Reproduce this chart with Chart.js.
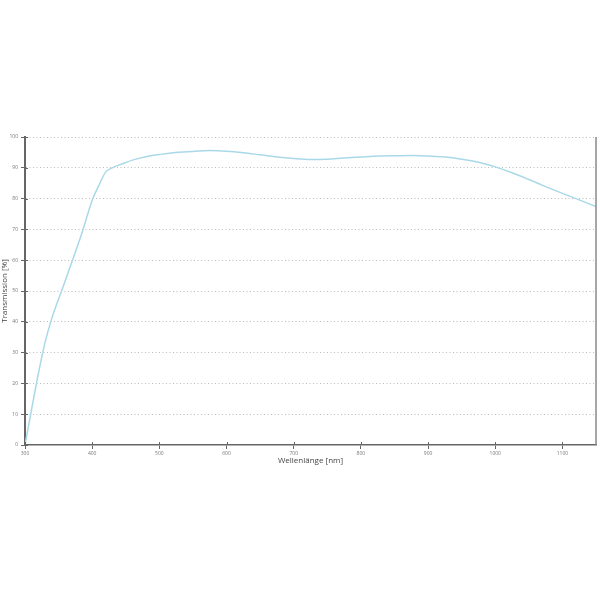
<!DOCTYPE html>
<html>
<head>
<meta charset="utf-8">
<script src="https://cdn.jsdelivr.net/npm/chart.js@4/dist/chart.umd.min.js"></script>
<style>
  html, body { margin: 0; padding: 0; background: #fff; }
  #wrap { width: 600px; height: 600px; }
</style>
</head>
<body>
<div id="wrap"><canvas id="chart"></canvas></div>
<script>
// Wellenlänge in nm
var wellenlaenge = [300, 310, 320, 330, 340, 355, 370, 385, 400, 410, 420, 430, 445, 460, 480,
  500, 525, 550, 575, 600, 625, 650, 675, 700, 725, 750, 775, 800, 825, 850, 875,
  900, 925, 950, 975, 1000, 1025, 1050, 1075, 1100, 1125, 1150];
// Transmission in %
var transmission = [0, 11.8, 23.3, 33.4, 41.2, 50.3, 59.6, 69.0, 79.5, 84.3, 88.6, 90.0, 91.3, 92.5, 93.6,
  94.3, 95.0, 95.3, 95.6, 95.4, 94.9, 94.2, 93.5, 93.0, 92.7, 92.8, 93.2, 93.5, 93.8, 93.9, 94.0,
  93.8, 93.5, 92.8, 91.8, 90.3, 88.4, 86.2, 83.9, 81.7, 79.6, 77.4];
var xTicks = [300, 400, 500, 600, 700, 800, 900, 1000, 1100];
var yTicks = [0, 10, 20, 30, 40, 50, 60, 70, 80, 90, 100];

var punkte = wellenlaenge.map(function (x, i) { return { x: x, y: transmission[i] }; });

// kleine Striche innen an den Achsen + rechter Rahmen
var achsenPlugin = {
  id: 'achsen',
  afterDraw: function (chart) {
    var ctx = chart.ctx, a = chart.chartArea;
    var sx = chart.scales.x, sy = chart.scales.y;
    ctx.save();
    ctx.strokeStyle = '#666';
    ctx.lineWidth = 1;
    ctx.setLineDash([]);
    ctx.beginPath();
    xTicks.forEach(function (v) {
      var p = Math.round(sx.getPixelForValue(v)) + 0.5;
      ctx.moveTo(p, a.bottom);
      ctx.lineTo(p, a.bottom - 3);
    });
    yTicks.forEach(function (v) {
      var p = Math.round(sy.getPixelForValue(v)) + 0.5;
      ctx.moveTo(a.left, p);
      ctx.lineTo(a.left + 3, p);
    });
    ctx.stroke();
    ctx.strokeStyle = '#888';
    ctx.lineWidth = 1.5;
    ctx.beginPath();
    ctx.moveTo(a.right, a.top);
    ctx.lineTo(a.right, a.bottom);
    ctx.stroke();
    ctx.restore();
  }
};

new Chart(document.getElementById('chart'), {
  type: 'line',
  data: {
    datasets: [{
      label: 'Transmission',
      data: punkte,
      borderColor: '#a9d9e8',
      borderWidth: 1.5,
      pointRadius: 0,
      cubicInterpolationMode: 'monotone',
      fill: false
    }]
  },
  options: {
    responsive: true,
    maintainAspectRatio: false,
    animation: false,
    layout: { padding: { top: 137, right: 4, left: 0, bottom: 134 } },
    plugins: { legend: { display: false }, tooltip: { enabled: false } },
    scales: {
      x: {
        type: 'linear',
        min: 300,
        max: 1150,
        afterBuildTicks: function (s) { s.ticks = xTicks.map(function (v) { return { value: v }; }); },
        afterFit: function (s) { s.height = 21; },
        border: { color: '#666', width: 1.5 },
        grid: { drawOnChartArea: false, tickLength: 4, tickColor: '#666', tickWidth: 1 },
        ticks: {
          color: '#777', font: { family: 'Open Sans', size: 5 }, padding: 2, maxRotation: 0,
          callback: function (v) { return String(v); }
        },
        title: {
          display: true,
          text: 'Wellenlänge [nm]',
          color: '#444',
          font: { family: 'Open Sans', size: 8 },
          padding: { top: 0, bottom: 0 }
        }
      },
      y: {
        min: 0,
        max: 100,
        afterBuildTicks: function (s) { s.ticks = yTicks.map(function (v) { return { value: v }; }); },
        afterFit: function (s) { s.width = 25; },
        border: { color: '#666', width: 2, dash: [1, 2.5] },
        grid: {
          color: function (c) { return c.tick && c.tick.value === 0 ? 'rgba(0,0,0,0)' : '#bbb'; },
          lineWidth: 1,
          tickLength: 4,
          tickColor: '#666',
          tickBorderDash: [],
          tickWidth: 1
        },
        ticks: {
          color: '#777', font: { family: 'Open Sans', size: 5 }, padding: 3,
          callback: function (v) { return String(v); }
        },
        title: {
          display: true,
          text: 'Transmission [%]',
          color: '#444',
          font: { family: 'Open Sans', size: 8 },
          padding: { top: 0, bottom: 0 }
        }
      }
    }
  },
  plugins: [achsenPlugin]
});
</script>
</body>
</html>
